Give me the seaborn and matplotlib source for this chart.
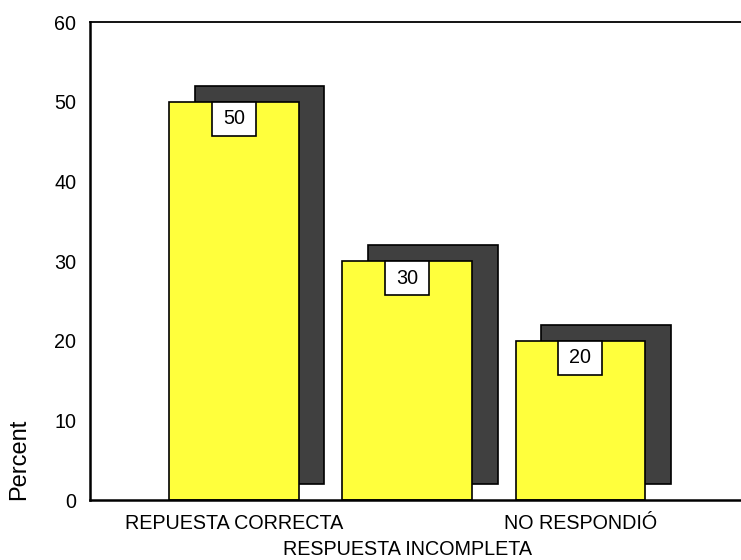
import numpy as np
import pandas as pd
import matplotlib
matplotlib.use('Agg')
import matplotlib.pyplot as plt
from matplotlib.patches import Rectangle
import seaborn as sns

categories = ['REPUESTA CORRECTA', 'RESPUESTA INCOMPLETA', 'NO RESPONDIÓ']
percent = [50, 30, 20]
y_ticks = [0, 10, 20, 30, 40, 50, 60]

YELLOW = '#ffff3c'
SHADOW = '#404040'
BAR_W = 0.746
SHIFT_X = 0.15
SHIFT_Y = 2.0
FS = 14.2

sns.set_style('white')
plt.rcParams['font.family'] = ['Liberation Sans', 'DejaVu Sans']
plt.rcParams['text.color'] = 'black'

df = pd.DataFrame({'respuesta': categories, 'percent': percent})

fig = plt.figure(figsize=(7.41, 5.6), dpi=100)
ax = fig.add_axes([0.1215, 0.107, 0.8785, 0.8536])

# 3D shadow behind the bars
pos = np.arange(len(categories))
ax.bar(pos + SHIFT_X, df['percent'], bottom=SHIFT_Y, width=BAR_W,
       color=SHADOW, edgecolor='black', linewidth=1.2, zorder=1)

sns.barplot(data=df, x='respuesta', y='percent', color=YELLOW,
            saturation=1, width=BAR_W, edgecolor='black', linewidth=1.2,
            ax=ax, zorder=2)

# value boxes
box_w, box_h = 0.25, 4.3
for i, v in enumerate(df['percent']):
    ax.add_patch(Rectangle((i - box_w / 2, v - box_h), box_w, box_h,
                           facecolor='white', edgecolor='black',
                           linewidth=1.2, zorder=3))
    ax.text(i, v - box_h / 2, str(v), ha='center', va='center',
            fontsize=FS, color='black', zorder=4)

ax.set_xlim(-0.832, 2.93)
ax.set_ylim(0, 60)
ax.set_yticks(y_ticks)
ax.set_yticklabels([str(t) for t in y_ticks], fontsize=FS)
ax.set_xticks(pos)
# middle label sits on a second row, drawn separately below
ax.set_xticklabels([categories[0], '', categories[2]], fontsize=FS)
ax.text(1, -0.084, categories[1], transform=ax.get_xaxis_transform(),
        ha='center', va='top', fontsize=FS, color='black')

ax.tick_params(axis='both', direction='out', length=3, width=2,
               color='black', labelcolor='black')
ax.tick_params(axis='x', pad=7)
ax.tick_params(axis='y', pad=7)

ax.set_xlabel('')
ax.set_ylabel('Percent', fontsize=17, loc='bottom', color='black')
ax.yaxis.set_label_coords(-0.092, 0)

ax.spines['right'].set_visible(False)
ax.spines['left'].set_linewidth(1.8)
ax.spines['bottom'].set_linewidth(1.8)
ax.spines['top'].set_linewidth(1.3)
for s in ax.spines.values():
    s.set_color('black')

fig.savefig('out.png', dpi=100)
